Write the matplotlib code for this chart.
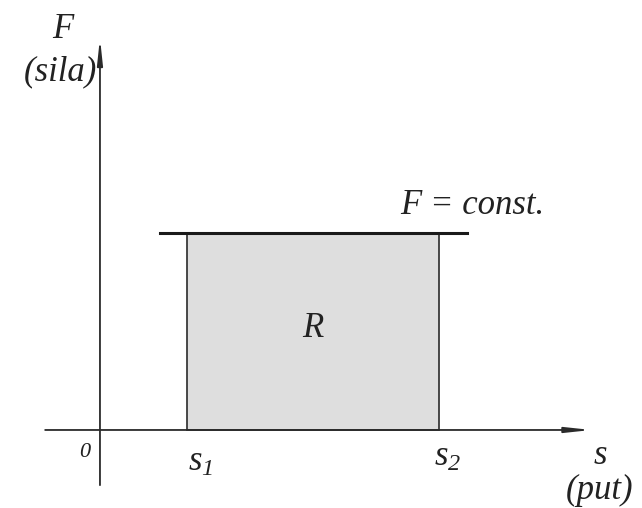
import matplotlib.pyplot as plt
from matplotlib.patches import Rectangle

# work diagram: constant force F over path from s1 to s2
s_points = [1.0, 3.9]        # s1, s2
force_value = 2.0            # F = const.
line_span = [0.69, 4.22]     # extent of the F = const. line
s_axis = [-0.63, 5.65]       # horizontal axis range
f_axis = [-0.56, 3.98]       # vertical axis range

plt.rcParams['font.family'] = ['Liberation Serif', 'DejaVu Serif']
plt.rcParams['mathtext.fontset'] = 'custom'
plt.rcParams['mathtext.it'] = 'Liberation Serif:italic'
plt.rcParams['mathtext.rm'] = 'Liberation Serif:italic'

fig = plt.figure(figsize=(6.42, 5.08), dpi=100)
ax = fig.add_axes([0, 0, 1, 1])
ax.set_xlim(-1.149, 6.23)
ax.set_ylim(-0.792, 4.365)
ax.axis('off')

axis_col = '#2a2a2a'

# shaded area R
s1, s2 = s_points
ax.add_patch(Rectangle((s1, 0), s2 - s1, force_value, facecolor='#dedede',
                       edgecolor='#3a3a3a', linewidth=1.3, zorder=1))

# F = const. line
ax.plot(line_span, [force_value, force_value], color='#1a1a1a', lw=2.2, zorder=2)

# axes with arrows
arrow = dict(arrowstyle='-|>,head_length=1.5,head_width=0.16',
             color=axis_col, lw=1.3, shrinkA=0, shrinkB=0)
ax.annotate('', xy=(s_axis[1], 0), xytext=(s_axis[0], 0), arrowprops=arrow, zorder=3)
ax.annotate('', xy=(0, f_axis[1]), xytext=(0, f_axis[0]), arrowprops=arrow, zorder=3)

txt = dict(color='#222222', style='italic')
ax.text(-0.31, 4.07, 'F', fontsize=25, ha='right', va='center', **txt)
ax.text(-0.03, 3.64, '(sila)', fontsize=25, ha='right', va='center', **txt)
ax.text(4.28, 2.28, 'F = const.', fontsize=25, ha='center', va='center', **txt)
ax.text(2.45, 1.03, 'R', fontsize=25, ha='center', va='center', **txt)
ax.text(-0.18, -0.23, '0', fontsize=16, ha='center', va='center', **txt)
ax.text(s1 + 0.16, -0.33, '$s_1$', fontsize=25, ha='center', va='center', color='#222222')
ax.text(s2 + 0.1, -0.28, '$s_2$', fontsize=25, ha='center', va='center', color='#222222')
ax.text(5.75, -0.26, 's', fontsize=25, ha='center', va='center', **txt)
ax.text(5.74, -0.61, '(put)', fontsize=25, ha='center', va='center', **txt)

fig.savefig('out.png', dpi=100)
